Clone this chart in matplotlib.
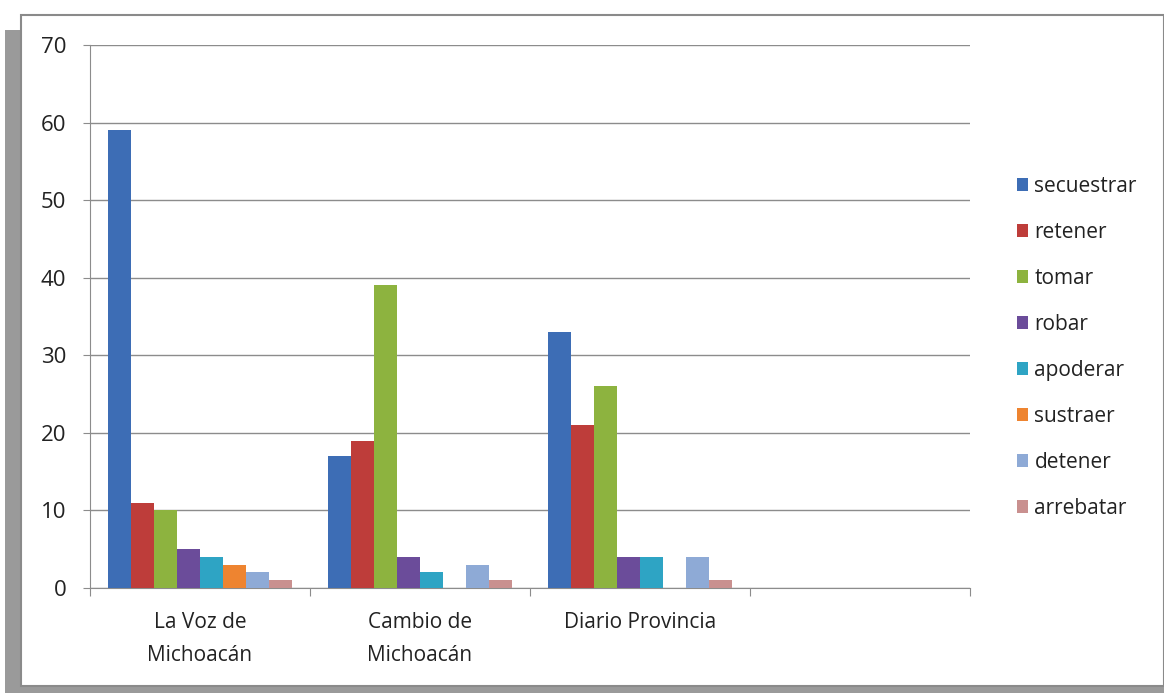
import matplotlib
matplotlib.use("Agg")
import matplotlib.pyplot as plt
import numpy as np
from matplotlib.patches import Rectangle

categories = ["La Voz de\nMichoacán", "Cambio de\nMichoacán", "Diario Provincia", ""]
series = ["secuestrar", "retener", "tomar", "robar", "apoderar", "sustraer", "detener", "arrebatar"]
secuestrar = [59, 17, 33]
retener = [11, 19, 21]
tomar = [10, 39, 26]
robar = [5, 4, 4]
apoderar = [4, 2, 4]
sustraer = [3, 0, 0]
detener = [2, 3, 4]
arrebatar = [1, 1, 1]
values = [secuestrar, retener, tomar, robar, apoderar, sustraer, detener, arrebatar]
colors = ["#3D6DB5", "#BE3D3A", "#8DB33F", "#6B4C9A", "#2EA4C4", "#EE8430", "#8EAAD6", "#C9908F"]
yticks = [0, 10, 20, 30, 40, 50, 60, 70]

plt.rcParams['font.family'] = ['Open Sans', 'DejaVu Sans']

W, H = 1164, 693
fig = plt.figure(figsize=(W / 100, H / 100), dpi=100)
fig.patch.set_facecolor("white")

# frame with shadow
fig.add_artist(Rectangle((5 / W, 0), 16 / W, (H - 30) / H, transform=fig.transFigure,
                         facecolor="#9a9a9a", edgecolor="none", zorder=0))
fig.add_artist(Rectangle((5 / W, 0), (W - 5) / W, 7 / H, transform=fig.transFigure,
                         facecolor="#9a9a9a", edgecolor="none", zorder=0))
fig.add_artist(Rectangle((21 / W, 7 / H), (W - 21) / W, (H - 7 - 15) / H, transform=fig.transFigure,
                         facecolor="white", edgecolor="#8a8a8a", linewidth=1.5, zorder=0))

left, right, top, bottom = 90, 970, 45, 588
ax = fig.add_axes([left / W, (H - bottom) / H, (right - left) / W, (bottom - top) / H])
ax.set_facecolor("none")

n = len(series)
ncat = len(categories)
bw = 0.105
x = np.arange(3)
handles = []
for i, (name, vals, c) in enumerate(zip(series, values, colors)):
    pos = x + 0.5 + (i - (n - 1) / 2) * bw
    h = ax.bar(pos, vals, width=bw, color=c, edgecolor="none", label=name, zorder=3)
    handles.append(h)

ax.set_xlim(0, ncat)
ax.set_ylim(0, 70)
ax.set_yticks(yticks)
ax.set_yticklabels([str(t) for t in yticks], fontsize=16, color="#222222")
ax.yaxis.grid(True, color="#8c8c8c", linewidth=1.0, zorder=0)
ax.set_xticks(np.arange(ncat + 1))
ax.set_xticklabels([])
ax.set_xticks(np.arange(ncat) + 0.5, minor=True)
ax.set_xticklabels(categories, minor=True, fontsize=15, color="#222222", linespacing=1.75, va="top")
ax.tick_params(axis="x", which="minor", length=0, pad=17)
ax.tick_params(axis="x", which="major", length=6, color="#8c8c8c")
ax.tick_params(axis="y", length=5, color="#8c8c8c", pad=12)
for s in ["top", "right"]:
    ax.spines[s].set_visible(False)
ax.spines["left"].set_color("#8c8c8c")
ax.spines["bottom"].set_color("#8c8c8c")

fig.legend(handles=handles, labels=series, loc="upper left",
           bbox_to_anchor=(998 / W, (H - 157) / H), frameon=False, fontsize=15,
           handlelength=0.55, handleheight=0.55, handletextpad=0.3, labelspacing=1.2,
           labelcolor="#222222")

fig.savefig("out.png", dpi=100, facecolor="white")
